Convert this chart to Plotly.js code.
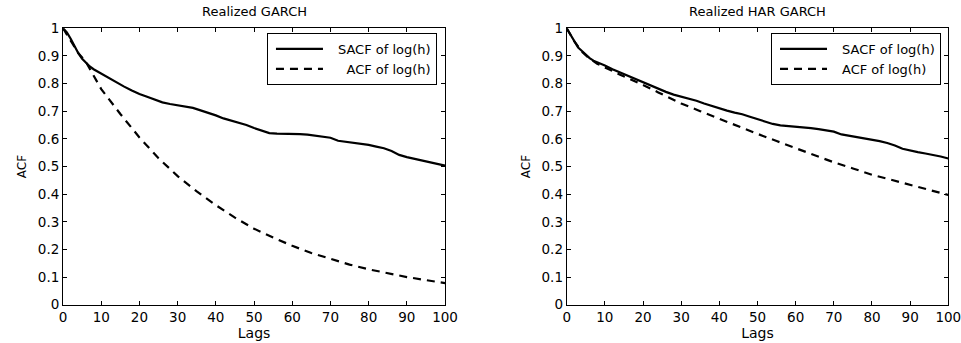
<!DOCTYPE html>
<html>
<head>
<meta charset="utf-8">
<script src="https://cdn.plot.ly/plotly-3.0.1.min.js"></script>
<style>html,body{margin:0;padding:0;background:#fff;}#chart{width:961px;height:343px;}</style>
</head>
<body>
<div id="chart"></div>
<script>
// ---- Data ----
const titles = ["Realized GARCH", "Realized HAR GARCH"];
const seriesNames = ["SACF of log(h)", "ACF of log(h)"];

const lagsSacf = [0,1,2,3,4,5,6,7,8,10,12,14,16,18,20,22,24,26,28,30,32,34,36,38,40,42,44,46,48,50,52,54,56,58,60,62,64,66,68,70,72,74,76,78,80,82,84,86,88,90,92,94,96,98,100];

const sacfGarch = [1.0,0.985,0.962,0.935,0.91,0.89,0.875,0.862,0.852,0.836,0.82,0.803,0.789,0.775,0.762,0.752,0.742,0.732,0.726,0.721,0.717,0.712,0.703,0.695,0.685,0.674,0.666,0.66,0.65,0.639,0.629,0.621,0.619,0.619,0.618,0.617,0.615,0.612,0.609,0.604,0.593,0.589,0.586,0.583,0.578,0.572,0.566,0.556,0.542,0.534,0.528,0.522,0.516,0.51,0.503];

const sacfHar = [1.0,0.975,0.95,0.93,0.918,0.905,0.892,0.883,0.876,0.865,0.852,0.84,0.83,0.817,0.805,0.792,0.78,0.77,0.76,0.753,0.746,0.738,0.728,0.719,0.71,0.702,0.695,0.689,0.68,0.671,0.662,0.654,0.649,0.647,0.645,0.642,0.639,0.635,0.631,0.626,0.616,0.611,0.607,0.603,0.598,0.592,0.585,0.576,0.564,0.557,0.552,0.547,0.542,0.536,0.529];

const lagsAcfGarch = [0,2,4,6,8,10,15,20,25,30,35,40,45,50,55,60,65,70,75,80,85,90,95,100];
const acfGarch = [1.0,0.955,0.91,0.878,0.83,0.78,0.69,0.605,0.53,0.465,0.41,0.36,0.315,0.275,0.243,0.213,0.187,0.165,0.145,0.128,0.113,0.1,0.089,0.078];

const lagsAcfHar = [0,2,4,6,8,10,12,14,16,18,20,22,24,26,28,30,35,40,45,50,55,60,65,70,75,80,85,90,95,100];
const acfHar = [1.0,0.953,0.915,0.89,0.872,0.858,0.845,0.832,0.82,0.808,0.795,0.782,0.768,0.755,0.742,0.728,0.70,0.672,0.645,0.618,0.592,0.567,0.541,0.515,0.493,0.47,0.452,0.433,0.415,0.397];

const xTicks = [0,10,20,30,40,50,60,70,80,90,100];
const yTicks = [0,0.1,0.2,0.3,0.4,0.5,0.6,0.7,0.8,0.9,1];
const yTickText = ["0","0.1","0.2","0.3","0.4","0.5","0.6","0.7","0.8","0.9","1"];

// ---- Styles ----
const FONT = "DejaVu Sans, Liberation Sans, Arial, sans-serif";
const solid = {color: "#000", width: 2.2, dash: "solid"};
const dashed = {color: "#000", width: 2.2, dash: "8px,6px"};

const traces = [
  {x: lagsSacf, y: sacfGarch, name: seriesNames[0], mode: "lines", line: solid, xaxis: "x", yaxis: "y", legend: "legend"},
  {x: lagsAcfGarch, y: acfGarch, name: seriesNames[1], mode: "lines", line: dashed, xaxis: "x", yaxis: "y", legend: "legend"},
  {x: lagsSacf, y: sacfHar, name: seriesNames[0], mode: "lines", line: solid, xaxis: "x2", yaxis: "y2", legend: "legend2"},
  {x: lagsAcfHar, y: acfHar, name: seriesNames[1], mode: "lines", line: dashed, xaxis: "x2", yaxis: "y2", legend: "legend2"}
];

function xAxis(domain, anchor) {
  return {
    domain: domain, anchor: anchor, range: [0, 100],
    tickvals: xTicks, ticktext: xTicks.map(String),
    ticks: "inside", ticklen: 4, tickwidth: 1, tickcolor: "#000",
    showline: true, linecolor: "#000", linewidth: 1, mirror: "ticks",
    showgrid: false, zeroline: false, ticklabeloverflow: "allow",
    tickfont: {family: FONT, size: 13.5, color: "#000"},
    title: {text: "Lags", font: {family: FONT, size: 14, color: "#000"}, standoff: 1}
  };
}
function yAxis(domain, anchor) {
  return {
    domain: domain, anchor: anchor, range: [0, 1],
    tickvals: yTicks, ticktext: yTickText,
    ticks: "inside", ticklen: 4, tickwidth: 1, tickcolor: "#000",
    showline: true, linecolor: "#000", linewidth: 1, mirror: "ticks",
    showgrid: false, zeroline: false, ticklabeloverflow: "allow",
    tickfont: {family: FONT, size: 13.5, color: "#000"},
    title: {text: "ACF", font: {family: FONT, size: 12, color: "#000"}, standoff: 8}
  };
}

const yDom = [0.1117, 0.9175];
const legendFont = {family: FONT, size: 13, color: "#000"};
const layout = {
  width: 961, height: 343,
  margin: {l: 0, r: 0, t: 0, b: 0},
  paper_bgcolor: "#fff", plot_bgcolor: "#fff",
  showlegend: true,
  xaxis: xAxis([0.0656, 0.4631], "y"),
  yaxis: yAxis(yDom, "x"),
  xaxis2: xAxis([0.5897, 0.9868], "y2"),
  yaxis2: yAxis(yDom, "x2"),
  legend: {
    x: 0.4547, xanchor: "right", y: 0.9038, yanchor: "top",
    bgcolor: "#fff", bordercolor: "#000", borderwidth: 1,
    font: legendFont, itemwidth: 60, tracegroupgap: 0
  },
  legend2: {
    x: 0.9792, xanchor: "right", y: 0.9038, yanchor: "top",
    bgcolor: "#fff", bordercolor: "#000", borderwidth: 1,
    font: legendFont, itemwidth: 60, tracegroupgap: 0
  },
  annotations: [
    {text: titles[0], x: (0.0656 + 0.4631) / 2, y: 1 - 12 / 343, xref: "paper", yref: "paper",
     xanchor: "center", yanchor: "middle", showarrow: false, font: {family: FONT, size: 13, color: "#000"}},
    {text: titles[1], x: (0.5897 + 0.9868) / 2, y: 1 - 12 / 343, xref: "paper", yref: "paper",
     xanchor: "center", yanchor: "middle", showarrow: false, font: {family: FONT, size: 13, color: "#000"}}
  ]
};

Plotly.newPlot("chart", traces, layout, {staticPlot: true, displayModeBar: false}).then(function (gd) {
  // MATLAB-style legend: longer line samples, right-aligned labels
  gd.querySelectorAll(".legendlines path").forEach(function (p) {
    p.setAttribute("d", "M8,0h47");
  });
  ["legend", "legend2"].forEach(function (cls) {
    const lg = gd.querySelector("g." + cls);
    if (!lg) return;
    const texts = Array.from(lg.querySelectorAll("text.legendtext"));
    let maxW = 0;
    texts.forEach(function (t) { maxW = Math.max(maxW, t.getComputedTextLength()); });
    texts.forEach(function (t) {
      const w = t.getComputedTextLength();
      const x0 = parseFloat(t.getAttribute("x")) || 0;
      t.setAttribute("x", x0 + (maxW - w));
    });
  });
});
</script>
</body>
</html>
